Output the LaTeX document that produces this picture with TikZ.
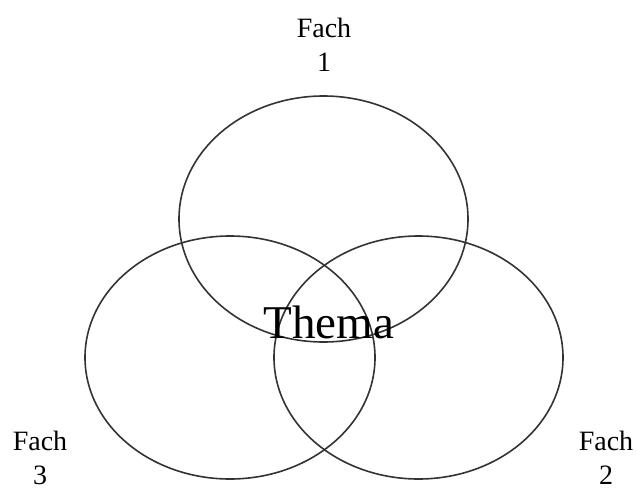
\documentclass[tikz,border=0pt]{standalone}
\usepackage{fontspec}
\setmainfont{Liberation Serif}
\usetikzlibrary{shapes.geometric}
\begin{document}
\begin{tikzpicture}[x=1pt,y=-1pt,
  circ/.style={ellipse,draw=black!80,line width=1.6pt,inner sep=0pt},
  fachlabel/.style={align=center,font=\fontsize{28}{34}\selectfont,inner sep=0pt,anchor=base},
  themalabel/.style={font=\fontsize{47}{50}\selectfont,inner sep=0pt,anchor=base}]
\useasboundingbox (0,0) rectangle (637,490);
\node[circ,minimum width=289pt,minimum height=246pt] (f1) at (323.5,219) {};
\node[circ,minimum width=290pt,minimum height=243pt] (f3) at (230,357.5) {};
\node[circ,minimum width=289pt,minimum height=243pt] (f2) at (418.5,357.5) {};
\node[fachlabel] (l1) at (324,71) {Fach\\1};
\node[fachlabel] (l3) at (40,484) {Fach\\3};
\node[fachlabel] (l2) at (606,484) {Fach\\2};
\node[themalabel] (thema) at (329,338) {Thema};
\end{tikzpicture}
\end{document}
